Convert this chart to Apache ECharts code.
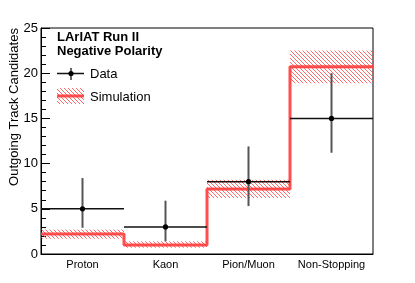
<!DOCTYPE html>
<html><head><meta charset="utf-8">
<script src="https://cdn.jsdelivr.net/npm/echarts@6/dist/echarts.min.js"></script>
<style>html,body{margin:0;padding:0;background:#fff}#c{width:415px;height:283px}</style>
</head><body><div id="c"></div>
<script>
var categories = ['Proton', 'Kaon', 'Pion/Muon', 'Non-Stopping'];
var dataValues = [5, 3, 8, 15];
var dataErrLow = [2.9, 1.4, 5.3, 11.2];
var dataErrHigh = [8.4, 5.9, 11.9, 20.0];
var simValues = [2.2, 1.0, 7.2, 20.7];
var simBandLow = [1.7, 0.7, 6.2, 18.9];
var simBandHigh = [2.7, 1.4, 8.2, 22.5];
var yTicks = [0, 5, 10, 15, 20, 25];

var RED = '#ff3b3b';
function hatch() {
  var c = document.createElement('canvas');
  c.width = 4; c.height = 4;
  var g = c.getContext('2d');
  g.fillStyle = 'rgba(255,70,70,0.8)';
  for (var i = 0; i < 4; i++) g.fillRect(i, i, 1, 1);
  return c;
}
var hatchCanvas = hatch();
var pattern = { image: hatchCanvas, repeat: 'repeat' };

var chart = echarts.init(document.getElementById('c'), null, { renderer: 'canvas' });

var stepData = simValues.map(function (v, i) { return [i, v]; });
stepData.push([simValues.length, simValues[simValues.length - 1]]);

var option = {
  animation: false,
  grid: { left: 41, right: 42, top: 28, bottom: 29, show: true, borderColor: '#000', borderWidth: 1, backgroundColor: 'transparent' },
  xAxis: [{
    type: 'category', data: categories, boundaryGap: true,
    axisLine: { lineStyle: { color: '#000', width: 1 } },
    axisTick: { inside: true, length: 5, interval: 0, lineStyle: { color: '#000' } },
    axisLabel: { color: '#000', fontSize: 11, fontFamily: 'Liberation Sans', margin: 5, interval: 0 },
    splitLine: { show: false }
  }, {
    type: 'value', min: 0, max: categories.length, show: false
  }],
  yAxis: {
    type: 'value', min: yTicks[0], max: yTicks[yTicks.length - 1], interval: 5,
    axisLine: { show: true, lineStyle: { color: '#000', width: 1 } },
    axisTick: { show: true, inside: true, length: 9, lineStyle: { color: '#000' } },
    minorTick: { show: true, splitNumber: 5, length: 5, lineStyle: { color: '#000' } },
    axisLabel: { color: '#000', fontSize: 13, fontFamily: 'Liberation Sans', margin: 3 },
    splitLine: { show: false }
  },
  series: [{
    type: 'custom', xAxisIndex: 1, z: 2,
    data: simBandLow.map(function (lo, i) { return [i, lo, simBandHigh[i]]; }),
    renderItem: function (params, api) {
      var i = api.value(0);
      var p0 = api.coord([i, api.value(2)]);
      var p1 = api.coord([i + 1, api.value(1)]);
      return { type: 'rect', shape: { x: p0[0], y: p0[1], width: p1[0] - p0[0], height: p1[1] - p0[1] }, style: { fill: pattern } };
    }
  }, {
    type: 'line', xAxisIndex: 1, step: 'end', data: stepData, symbol: 'none', z: 3,
    lineStyle: { color: RED, width: 3, opacity: 0.9 }
  }, {
    type: 'custom', xAxisIndex: 1, z: 4,
    data: dataValues.map(function (v, i) { return [i, v, dataErrLow[i], dataErrHigh[i]]; }),
    renderItem: function (params, api) {
      var i = api.value(0);
      var c = api.coord([i + 0.5, api.value(1)]);
      var l = api.coord([i, api.value(1)]);
      var r = api.coord([i + 1, api.value(1)]);
      var lo = api.coord([i + 0.5, api.value(2)]);
      var hi = api.coord([i + 0.5, api.value(3)]);
      return { type: 'group', children: [
        { type: 'line', shape: { x1: l[0], y1: l[1], x2: r[0], y2: r[1] }, style: { stroke: '#111', lineWidth: 1.5 } },
        { type: 'line', shape: { x1: lo[0], y1: lo[1], x2: hi[0], y2: hi[1] }, style: { stroke: '#555', lineWidth: 2 } },
        { type: 'circle', shape: { cx: c[0], cy: c[1], r: 2.6 }, style: { fill: '#000' } }
      ] };
    }
  }],
  graphic: [
    { type: 'text', left: 57, top: 31, style: { text: 'LArIAT Run II\nNegative Polarity', font: 'bold 13px "Liberation Sans"', fill: '#000', lineHeight: 13.5 } },
    { type: 'line', shape: { x1: 57, y1: 73.5, x2: 84, y2: 73.5 }, style: { stroke: '#111', lineWidth: 1.5 } },
    { type: 'line', shape: { x1: 71, y1: 68, x2: 71, y2: 80 }, style: { stroke: '#333', lineWidth: 1.5 } },
    { type: 'circle', shape: { cx: 71, cy: 73.5, r: 2.6 }, style: { fill: '#000' } },
    { type: 'text', x: 90, y: 74, style: { text: 'Data', font: '13px "Liberation Sans"', fill: '#000', verticalAlign: 'middle' } },
    { type: 'rect', shape: { x: 57, y: 88, width: 27, height: 16 }, style: { fill: pattern } },
    { type: 'line', shape: { x1: 57, y1: 96, x2: 84, y2: 96 }, style: { stroke: RED, lineWidth: 3, opacity: 0.9 } },
    { type: 'text', x: 90, y: 97, style: { text: 'Simulation', font: '13px "Liberation Sans"', fill: '#000', verticalAlign: 'middle' } },
    { type: 'text', x: 14, y: 107, rotation: Math.PI / 2, style: { text: 'Outgoing Track Candidates', font: '13px "Liberation Sans"', fill: '#000', align: 'center', verticalAlign: 'middle' } }
  ]
};
chart.setOption(option);
</script></body></html>
